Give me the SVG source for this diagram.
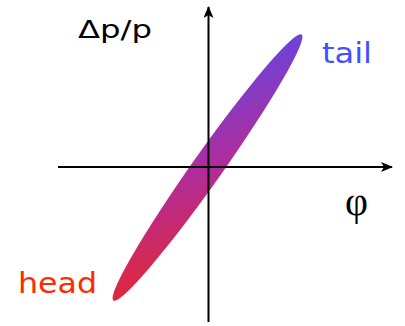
<svg xmlns="http://www.w3.org/2000/svg" width="405" height="326" viewBox="0 0 405 326">
<style>
.axis{stroke:#000;stroke-width:2;fill:none}
.lbl{font-family:"DejaVu Sans","Liberation Sans",sans-serif}
</style>
<defs>
<linearGradient id="g" gradientUnits="userSpaceOnUse" x1="118" y1="292" x2="297" y2="43">
<stop offset="0" stop-color="#ff2400"/>
<stop offset="0.5" stop-color="#b02c9c"/>
<stop offset="1" stop-color="#4450ff"/>
</linearGradient>
<marker id="arr" viewBox="0 0 12 10" refX="11" refY="5" markerWidth="12" markerHeight="10" markerUnits="userSpaceOnUse" orient="auto">
<path d="M0,0 L12,5 L0,10 L3,5 Z" fill="#000"/>
</marker>
</defs>
<g id="beam">
<ellipse cx="207.5" cy="167.5" rx="163" ry="15" transform="rotate(-54.7 207.5 167.5)" fill="url(#g)"/>
</g>
<g id="connectors">
<line class="axis" x1="58" y1="167" x2="392" y2="167" marker-end="url(#arr)"/>
<line class="axis" x1="208.5" y1="322" x2="208.5" y2="7" marker-end="url(#arr)"/>
</g>
<g id="label-dp">
<text class="lbl" x="78" y="38" font-size="25" textLength="74" lengthAdjust="spacingAndGlyphs">Δp/p</text>
</g>
<g id="label-tail">
<text class="lbl" x="322" y="63" font-size="28" fill="#4450ff" textLength="50" lengthAdjust="spacingAndGlyphs">tail</text>
</g>
<g id="label-phi">
<text x="345" y="215" font-family="Liberation Serif,serif" font-size="40" fill="#000" textLength="23" lengthAdjust="spacingAndGlyphs">φ</text>
</g>
<g id="label-head">
<text class="lbl" x="18" y="293" font-size="28" fill="#ff2a00" textLength="79" lengthAdjust="spacingAndGlyphs">head</text>
</g>
</svg>
